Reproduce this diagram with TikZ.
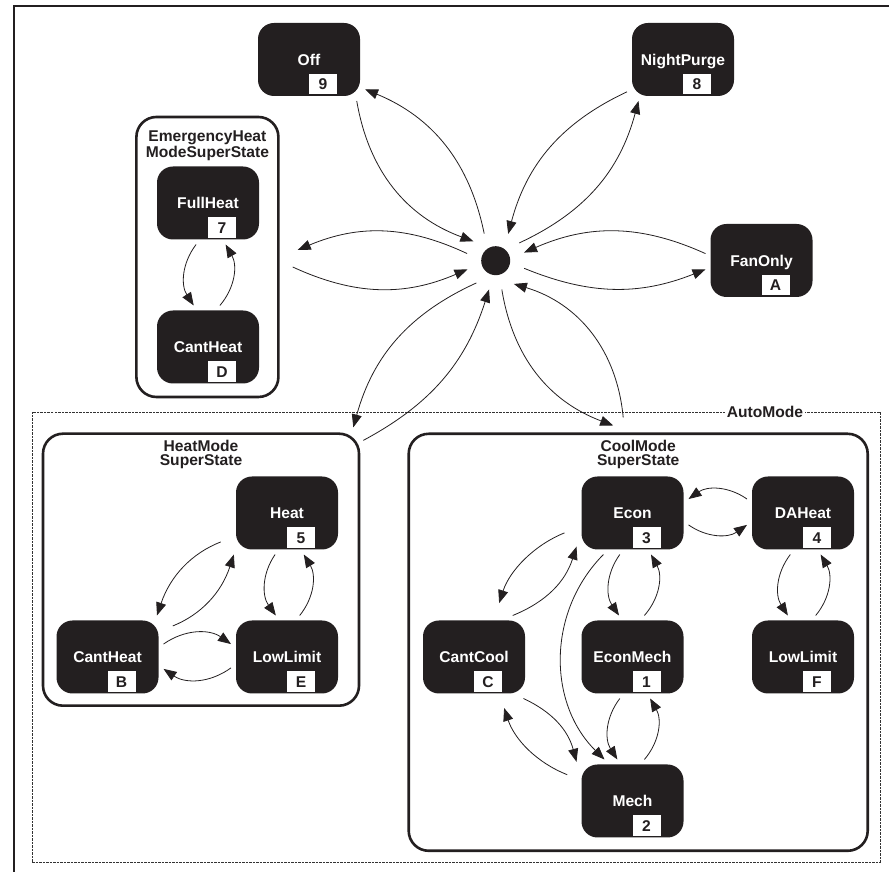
\documentclass[tikz,border=0pt]{standalone}
\usepackage{fontspec}
\setsansfont{Liberation Sans}
\usepackage{tikz}
\usetikzlibrary{positioning, arrows.meta}
\definecolor{ink}{RGB}{35,31,32}

\begin{document}
\begin{tikzpicture}[x=1pt, y=1pt, >={Triangle[length=13pt,width=10pt]}, node distance=144pt,
    state node/.style={rectangle, rounded corners=16pt, fill=ink, text=white, minimum width=102pt, minimum height=73pt, inner sep=0pt, outer sep=5pt, text height=11.2pt, text depth=0pt, font=\sffamily\bfseries\fontsize{15.6}{14}\selectfont},
    num box/.style={rectangle, fill=white, text=ink, minimum width=28pt, minimum height=20.5pt, inner sep=0pt, text height=11.2pt, text depth=0pt, font=\sffamily\bfseries\fontsize{15.6}{14}\selectfont},
    super node/.style={rectangle, draw=ink, line width=2.6pt, rounded corners=20pt, inner sep=0pt},
    title node/.style={align=center, inner sep=0pt, text=ink, font=\sffamily\bfseries\fontsize{15.6}{14}\selectfont},
    auto box/.style={rectangle, draw=black!80, dash pattern=on 2.5pt off 1pt, line width=0.7pt, inner sep=0pt},
    dot node/.style={circle, fill=ink, minimum size=29pt, inner sep=0pt, outer sep=15pt}]
    \useasboundingbox (0,0) rectangle (889,872);
    \draw[ink, line width=2pt] (13.5,0) -- (13.5,866) -- (889,866);

    % containers
    \node[auto box, minimum width=848pt, minimum height=450pt] (automode) at (456,235) {};
    \node[title node, fill=white, inner sep=1.5pt, text height=11.2pt, text depth=0pt] (automode-title) at ([xshift=309pt]automode.north) {AutoMode};
    \node[super node, minimum width=142pt, minimum height=280pt] (emheat) at (207.4,615) {};
    \node[super node, minimum width=316pt, minimum height=272pt] (heatmode) at (201,302.3) {};
    \node[super node, minimum width=459pt, minimum height=417pt] (coolmode) at (638.2,229.7) {};
    \node[title node] (emheat-title) [below=15pt of emheat.north] {EmergencyHeat\\ModeSuperState};
    \node[title node] (heatmode-title) [below=7.5pt of heatmode.north] {HeatMode\\SuperState};
    \node[title node] (coolmode-title) [below=7.5pt of coolmode.north] {CoolMode\\SuperState};

    % states
    \node[dot node] (dot) at (495.7,611.3) {};
    \node[state node] (off) at (309,812.5) {Off};
    \node[state node] (nightpurge) at (683,812.5) {NightPurge};
    \node[state node] (fanonly) at (761.5,611.5) {FanOnly};
    \node[state node] (fullheat) at (208,669) {FullHeat};
    \node[state node] (emcant) [below of=fullheat] {CantHeat};
    \node[state node] (heat) at (287,359) {Heat};
    \node[state node] (heatlow) [below of=heat] {LowLimit};
    \node[state node] (heatcant) [left of=heatlow, node distance=179.5pt] {CantHeat};
    \node[state node] (econ) at (632.5,359) {Econ};
    \node[state node] (econmech) [below of=econ] {EconMech};
    \node[state node] (mech) [below of=econmech] {Mech};
    \node[state node] (cantcool) [left of=econmech, node distance=158.5pt] {CantCool};
    \node[state node] (daheat) [right of=econ, node distance=170.5pt] {DAHeat};
    \node[state node] (coollow) [below of=daheat] {LowLimit};
    \foreach \s/\n in {off/9, nightpurge/8, fanonly/A, fullheat/7, emcant/D, heat/5, heatcant/B, heatlow/E,
                       econ/3, daheat/4, cantcool/C, econmech/1, coollow/F, mech/2}
        \node[num box] (\s-num) at ([xshift=14pt,yshift=-24.5pt]\s.center) {\n};

    % transitions
    \path[every edge/.style={draw=ink, line width=0.8pt, ->}]
    (off.-41) edge[bend right=30] (dot.139)
    (dot.113) edge[bend right=28] (off.-28)
    (nightpurge.210) edge[bend right=25] (dot.65)
    (dot.37) edge[bend right=25] (nightpurge.223)
    (fanonly.173) edge[bend right=24] (dot.16)
    (dot.-15) edge[bend right=22] (fanonly.189)
    (dot.166) edge[bend right=24] ([shift={(18pt,7pt)}]emheat.east)
    ([shift={(13pt,-10pt)}]emheat.east) edge[bend right=24] (dot.197)
    (dot.229) edge[bend right=25] ([shift={(-7pt,5pt)}]heatmode.north east)
    ([shift={(3pt,-8pt)}]heatmode.north east) edge[bend right=22] (dot.257)
    (dot.282) edge[bend right=30] ([shift={(-25pt,7pt)}]coolmode.north)
    ([shift={(-15pt,15pt)}]coolmode.north) edge[bend right=34] (dot.-52)
    (fullheat.254) edge[bend right=35] (emcant.109)
    (emcant.74) edge[bend right=35] (fullheat.293)
    (heat.204) edge[bend right=25, shorten <=11pt] (heatcant.40)
    (heatcant.26) edge[bend right=25, shorten <=10pt] (heat.218)
    (heat.254) edge[bend right=35] (heatlow.105)
    (heatlow.73) edge[bend right=35] (heat.292)
    (heatcant.13) edge[bend left=35] (heatlow.167)
    (heatlow.191) edge[bend left=35] (heatcant.-12)
    (econ.195) edge[bend right=25, shorten <=13pt, shorten >=13pt] (cantcool.63)
    (cantcool.47) edge[bend right=25] (econ.211)
    (econ.235) edge[bend right=45] (mech.124)
    (econ.253) edge[bend right=35] (econmech.108)
    (econmech.74) edge[bend right=35] (econ.294)
    (econmech.253) edge[bend right=35] (mech.110)
    (mech.74) edge[bend right=35] (econmech.293)
    (cantcool.-40) edge[bend left=25] (mech.145)
    (mech.158) edge[bend left=25, shorten <=10pt, shorten >=10pt] (cantcool.-57)
    (econ.-12) edge[bend right=35] (daheat.192)
    (daheat.166) edge[bend right=35] (econ.14)
    (daheat.253) edge[bend right=35] (coollow.110)
    (coollow.73) edge[bend right=35] (daheat.293);
\end{tikzpicture}
\end{document}
